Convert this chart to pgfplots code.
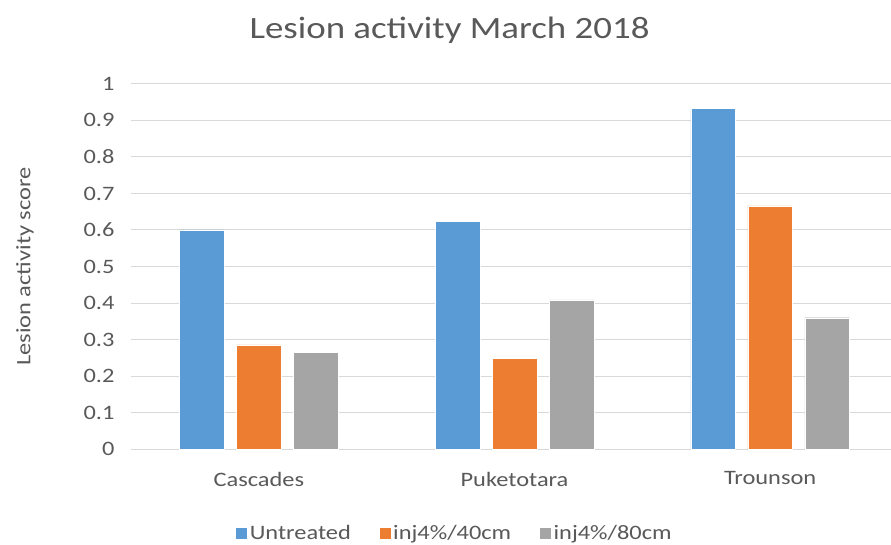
\documentclass[border=0pt]{standalone}
\usepackage{fontspec}
\setmainfont{Carlito}[FakeStretch=1.19]
\usepackage{pgfplots}
\pgfplotsset{compat=1.18}
\definecolor{cblue}{HTML}{5B9BD5}
\definecolor{corange}{HTML}{ED7D31}
\definecolor{cgray}{HTML}{A5A5A5}
\definecolor{ctext}{HTML}{595959}
\definecolor{cgrid}{HTML}{D9D9D9}
\begin{document}
\begin{tikzpicture}
\path[use as bounding box] (0,0) rectangle (891pt,545pt);
\begin{axis}[
  at={(131pt,95.7pt)}, anchor=south west,
  scale only axis, width=767pt, height=365.5pt,
  ybar=12.3pt, bar width=44.7pt,
  xmin=-0.5, xmax=2.5, ymin=0, ymax=1,
  xtick={0,1,2}, xticklabels={Cascades,Puketotara,Trounson},
  ytick={0,0.1,...,1.0},
  yticklabels={0,0.1,0.2,0.3,0.4,0.5,0.6,0.7,0.8,0.9,1},
  major tick length=0pt,
  axis line style={draw=none},
  ymajorgrids, major grid style={cgrid, line width=1pt},
  tick label style={font=\fontsize{20.5}{24}\selectfont, text=ctext},
  /pgf/number format/assume math mode=true,
  yticklabel style={xshift=-13pt},
  xticklabel style={yshift=-19pt},
  title={Lesion activity March 2018},
  title style={at={(axis description cs:0.4153,1.130)}, anchor=center, font=\fontsize{31}{36}\selectfont, text=ctext},
  ylabel={Lesion activity score},
  every axis y label/.style={at={(axis description cs:-0.1382,0.5)}, rotate=90, anchor=center, font=\fontsize{20.5}{24}\selectfont, text=ctext},
  legend style={at={(axis description cs:0.4218,-0.2298)}, anchor=center, draw=none, legend columns=3,
    font=\fontsize{20.5}{24}\selectfont, text=ctext,
    /tikz/every even column/.append style={column sep=26pt}},
  legend image code/.code={\fill[#1] (0pt,-6pt) rectangle (12pt,6pt);},
]
\addplot[fill=cblue, draw=white, line width=0.4pt] coordinates {(0,0.6) (1,0.624) (2,0.932)};
\addplot[fill=corange, draw=white, line width=0.4pt] coordinates {(0,0.286) (1,0.248) (2,0.666)};
\addplot[fill=cgray, draw=white, line width=0.4pt] coordinates {(0,0.265) (1,0.409) (2,0.36)};
\legend{Untreated,inj4\%/40cm,inj4\%/80cm}
\end{axis}
\end{tikzpicture}
\end{document}
